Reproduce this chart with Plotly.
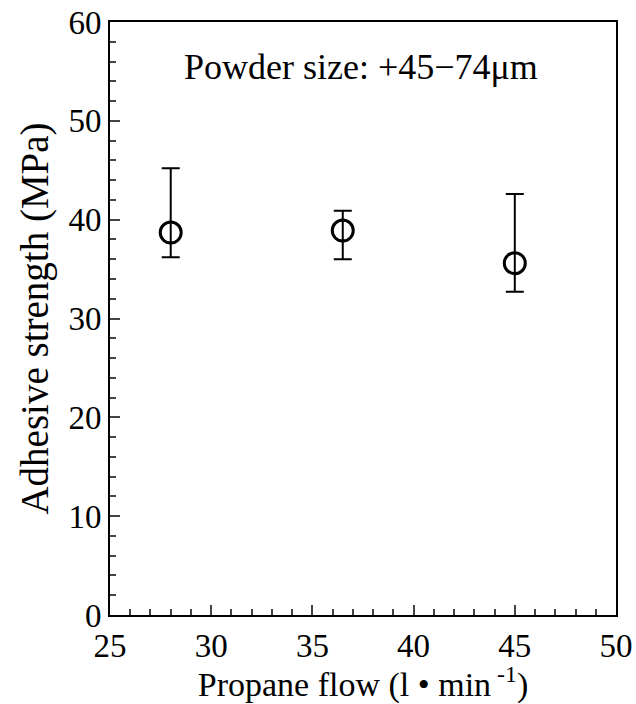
import plotly.graph_objects as go

propane_flow = [28.0, 36.5, 45.0]
adhesive_strength = [38.7, 38.9, 35.6]
err_plus = [6.5, 2.0, 7.0]
err_minus = [2.5, 2.9, 2.9]

x_ticks = [25, 30, 35, 40, 45, 50]
y_ticks = [0, 10, 20, 30, 40, 50, 60]

font = "Liberation Serif, Times New Roman, serif"

fig = go.Figure()
fig.add_trace(go.Scatter(
    x=propane_flow, y=adhesive_strength,
    mode="markers",
    marker=dict(symbol="circle-open", size=21, color="black", line=dict(width=3, color="black")),
    error_y=dict(type="data", symmetric=False, array=err_plus, arrayminus=err_minus,
                 color="black", thickness=2, width=9),
    showlegend=False,
))

fig.add_annotation(x=37.4, y=55.4, text="Powder size: +45\u221274\u03bcm", showarrow=False,
                   font=dict(family=font, size=36, color="black"))

fig.update_layout(
    width=636, height=704,
    margin=dict(l=110, r=20, t=22, b=89),
    plot_bgcolor="white", paper_bgcolor="white",
    font=dict(family=font, size=32, color="black"),
    xaxis=dict(range=[25, 50], tickvals=x_ticks, ticks="inside", ticklen=10, tickwidth=2,
               showline=True, linewidth=2, linecolor="black", mirror=True, showgrid=False,
               zeroline=False, automargin=False,
               minor=dict(dtick=1, ticks="inside", ticklen=6, tickwidth=1.5, showgrid=False),
               title=dict(text="Propane flow (l \u2022 min<sup> -1</sup>)", standoff=7, font=dict(size=34)),
               tickfont=dict(size=33)),
    yaxis=dict(range=[0, 60], tickvals=y_ticks, ticks="inside", ticklen=10, tickwidth=2,
               showline=True, linewidth=2, linecolor="black", mirror=True, showgrid=False,
               zeroline=False, automargin=False,
               minor=dict(dtick=2, ticks="inside", ticklen=6, tickwidth=1.5, showgrid=False),
               title=dict(text="Adhesive strength (MPa)", standoff=8, font=dict(size=39)),
               tickfont=dict(size=33)),
)

fig.write_html("out.html")
